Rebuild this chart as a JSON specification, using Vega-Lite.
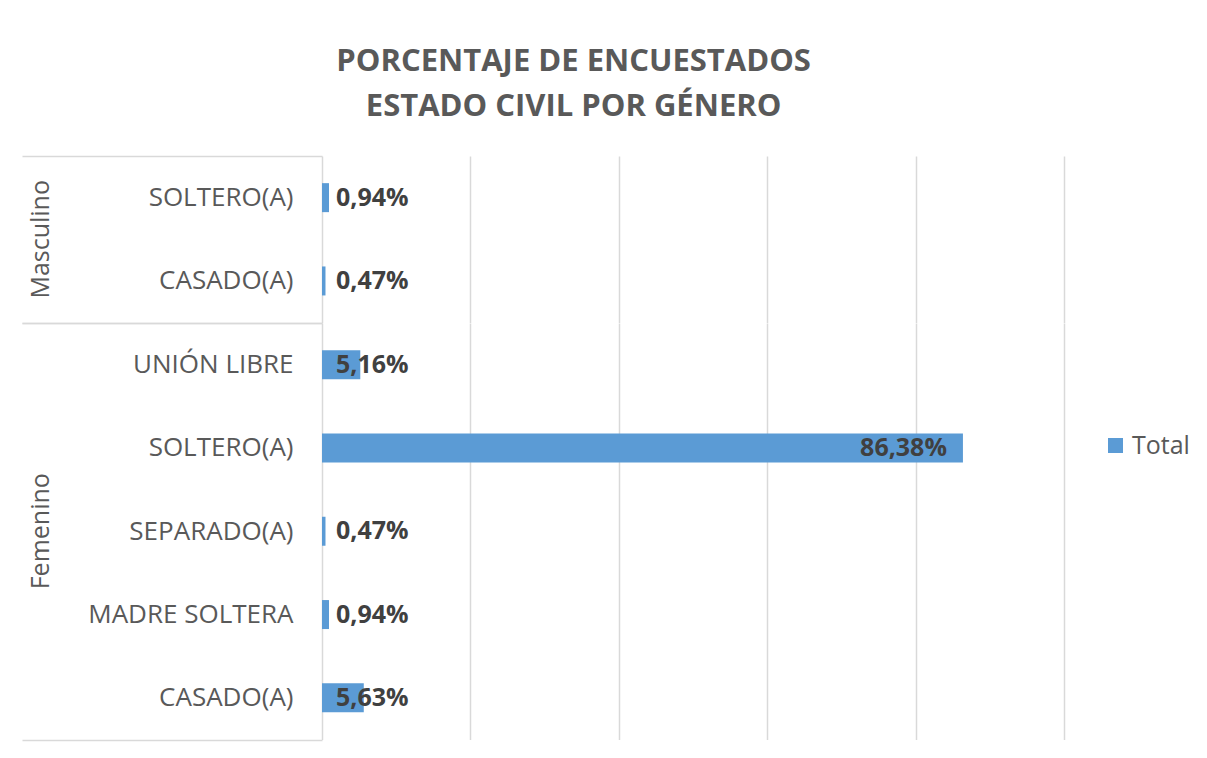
{
  "$schema": "https://vega.github.io/schema/vega-lite/v6.json",
  "background": "white",
  "padding": {"left": 21, "top": 46, "right": 5, "bottom": 5},
  "bounds": "flush",
  "config": {
    "locale": {"number": {"decimal": ",", "thousands": ".", "grouping": [3], "currency": ["", " €"]}},
    "font": "Open Sans",
    "view": {"stroke": null},
    "facet": {"spacing": 0}
  },
  "title": {
    "text": ["PORCENTAJE DE ENCUESTADOS", "ESTADO CIVIL POR GÉNERO"],
    "fontSize": 31,
    "fontWeight": "bold",
    "color": "#595959",
    "lineHeight": 45,
    "anchor": "middle",
    "offset": 20,
    "dx": -32
  },
  "data": {
    "values": [
      {"genero": "Masculino", "estado": "SOLTERO(A)", "pct": 0.0094},
      {"genero": "Masculino", "estado": "CASADO(A)", "pct": 0.0047},
      {"genero": "Femenino", "estado": "UNIÓN LIBRE", "pct": 0.0516},
      {"genero": "Femenino", "estado": "SOLTERO(A)", "pct": 0.8638},
      {"genero": "Femenino", "estado": "SEPARADO(A)", "pct": 0.0047},
      {"genero": "Femenino", "estado": "MADRE SOLTERA", "pct": 0.0094},
      {"genero": "Femenino", "estado": "CASADO(A)", "pct": 0.0563}
    ]
  },
  "facet": {
    "row": {
      "field": "genero",
      "type": "nominal",
      "sort": ["Masculino", "Femenino"],
      "title": null,
      "header": {
        "labelAngle": -90,
        "labelOrient": "left",
        "labelFontSize": 25,
        "labelColor": "#595959",
        "labelFont": "Open Sans",
        "labelPadding": 256
      }
    }
  },
  "spacing": 0,
  "resolve": {"scale": {"y": "independent"}},
  "spec": {
    "width": 742,
    "height": {"step": 83.3},
    "encoding": {
      "y": {
        "field": "estado",
        "type": "nominal",
        "sort": ["UNIÓN LIBRE", "SOLTERO(A)", "SEPARADO(A)", "MADRE SOLTERA", "CASADO(A)"],
        "scale": {"paddingInner": 0, "paddingOuter": 0},
        "axis": {
          "title": null,
          "domain": false,
          "tickBand": "extent",
          "tickSize": 300,
          "tickColor": "#d9d9d9",
          "tickWidth": 1.5,
          "tickOpacity": {"condition": {"test": "datum.index < 0 || datum.value == 'CASADO(A)'", "value": 1}, "value": 0},
          "labelPadding": -271,
          "labelLimit": 0,
          "labelFontSize": 26,
          "labelColor": "#595959",
          "labelFont": "Open Sans"
        }
      }
    },
    "layer": [
      {
        "mark": {"type": "bar", "height": {"band": 0.348}},
        "encoding": {
          "x": {
            "field": "pct",
            "type": "quantitative",
            "scale": {"domain": [0, 1]},
            "axis": {
              "title": null,
              "labels": false,
              "ticks": false,
              "domain": false,
              "grid": true,
              "values": [0, 0.2, 0.4, 0.6, 0.8, 1],
              "gridColor": "#d9d9d9",
              "gridWidth": 1.5
            }
          },
          "color": {
            "datum": "Total",
            "scale": {"range": ["#5b9bd5"]},
            "legend": {
              "title": null,
              "orient": "none",
              "legendX": 781,
              "legendY": 277,
              "symbolType": "square",
              "symbolSize": 225,
              "symbolStrokeWidth": 0,
              "labelFontSize": 25,
              "labelColor": "#595959",
              "labelFont": "Open Sans"
            }
          }
        }
      },
      {
        "transform": [{"filter": "datum.pct < 0.5"}],
        "mark": {"type": "text", "align": "left", "baseline": "middle", "dx": 14, "fontSize": 25, "fontWeight": "bold", "color": "#404040"},
        "encoding": {
          "x": {"datum": 0},
          "text": {"field": "pct", "type": "quantitative", "format": ".2%"}
        }
      },
      {
        "transform": [{"filter": "datum.pct >= 0.5"}],
        "mark": {"type": "text", "align": "right", "baseline": "middle", "dx": -16, "fontSize": 25, "fontWeight": "bold", "color": "#404040"},
        "encoding": {
          "x": {"field": "pct", "type": "quantitative"},
          "text": {"field": "pct", "type": "quantitative", "format": ".2%"}
        }
      }
    ]
  }
}
